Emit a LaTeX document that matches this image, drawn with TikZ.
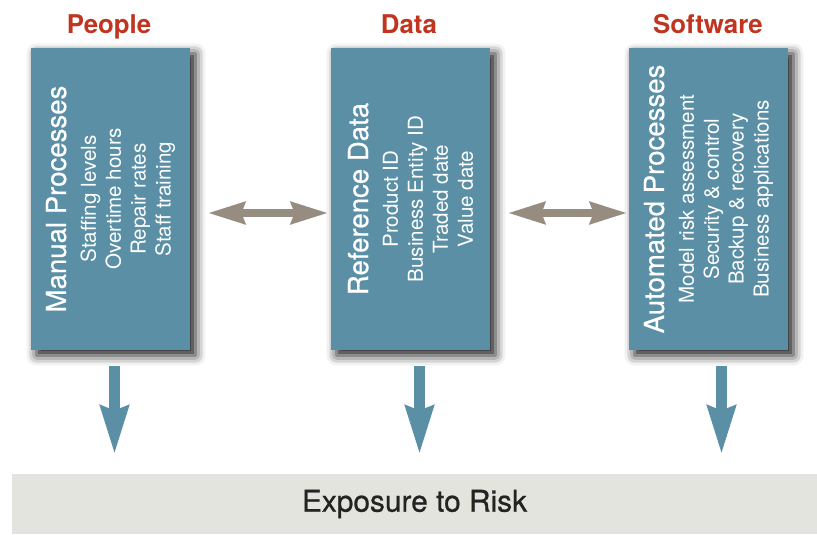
\documentclass[tikz,border=0pt]{standalone}
\usepackage{fontspec}
\setmainfont{TeX Gyre Heros}
\usetikzlibrary{arrows.meta,shadows.blur}
\definecolor{boxblue}{RGB}{91,143,166}
\definecolor{linkgrey}{RGB}{150,141,128}
\definecolor{headred}{RGB}{192,52,32}
\definecolor{barfill}{RGB}{228,228,223}
\definecolor{bartext}{RGB}{35,35,35}

\tikzset{
  procbox/.style={fill=boxblue, minimum width=3.18cm, minimum height=6.04cm, inner sep=0pt,
    blur shadow={shadow xshift=0.11cm, shadow yshift=-0.11cm, shadow blur radius=0.2cm, shadow opacity=90}},
  proctext/.style={rotate=90, align=center, text=white, font=\fontsize{11.7}{14.2}\selectfont},
  headtext/.style={text=headred, anchor=base, font=\bfseries\fontsize{14.7}{17}\selectfont},
  linkarrow/.style={linkgrey, line width=0.17cm,
    {Stealth[length=0.74cm,width=0.42cm,inset=0.06cm]}-{Stealth[length=0.74cm,width=0.42cm,inset=0.06cm]}},
  downarrow/.style={boxblue, line width=0.22cm, -{Stealth[length=0.96cm,width=0.54cm,inset=0.08cm]}},
}
\newcommand{\proctitle}[1]{{\fontsize{15.7}{18}\selectfont\addfontfeature{FakeBold=0.6}#1}}

\begin{document}
\begin{tikzpicture}[x=0.02cm, y=-0.02cm]

    \useasboundingbox (0,0) rectangle (817,534);

    % the three columns
    \node[procbox] (manual) at (110.5,199) {};
    \node[procbox] (refdata) at (410.5,199) {};
    \node[procbox] (automated) at (708.5,199) {};

    \node[proctext] at (manual.center) {\proctitle{Manual Processes}\\[2.8pt]
        Staffing levels\\ Overtime hours\\ Repair rates\\ Staff training};
    \node[proctext] at (refdata.center) {\proctitle{Reference Data}\\[2.8pt]
        Product ID\\ Business Entity ID\\ Traded date\\ Value date};
    \node[proctext] at (automated.center) {\proctitle{Automated Processes}\\[2.8pt]
        Model risk assessment\\ Security \& control\\ Backup \& recovery\\ Business applications};

    \node[headtext] (people) at (109,33) {People};
    \node[headtext] (data) at (409,33) {Data};
    \node[headtext] (software) at (708,33) {Software};

    % bottom bar
    \node[fill=barfill, minimum width=16.1cm, minimum height=1.2cm, inner sep=0pt,
        text=bartext, font=\fontsize{17}{20}\selectfont\addfontfeature{FakeBold=0.8}] (risk) at (414.5,504) {Exposure to Risk};

    \draw[linkarrow, shorten <=0.34cm, shorten >=0.04cm]
        ([yshift=-0.28cm]manual.east) -- ([yshift=-0.28cm]refdata.west);
    \draw[linkarrow, shorten <=0.34cm, shorten >=0.02cm]
        ([yshift=-0.28cm]refdata.east) -- ([yshift=-0.28cm]automated.west);

    \draw[downarrow, shorten <=0.32cm, shorten >=0.38cm]
        ([xshift=0.08cm]manual.south) -- ([xshift=0.08cm]manual.south |- risk.north);
    \draw[downarrow, shorten <=0.32cm, shorten >=0.38cm]
        ([xshift=0.18cm]refdata.south) -- ([xshift=0.18cm]refdata.south |- risk.north);
    \draw[downarrow, shorten <=0.32cm, shorten >=0.38cm]
        ([xshift=0.26cm]automated.south) -- ([xshift=0.26cm]automated.south |- risk.north);

\end{tikzpicture}
\end{document}
